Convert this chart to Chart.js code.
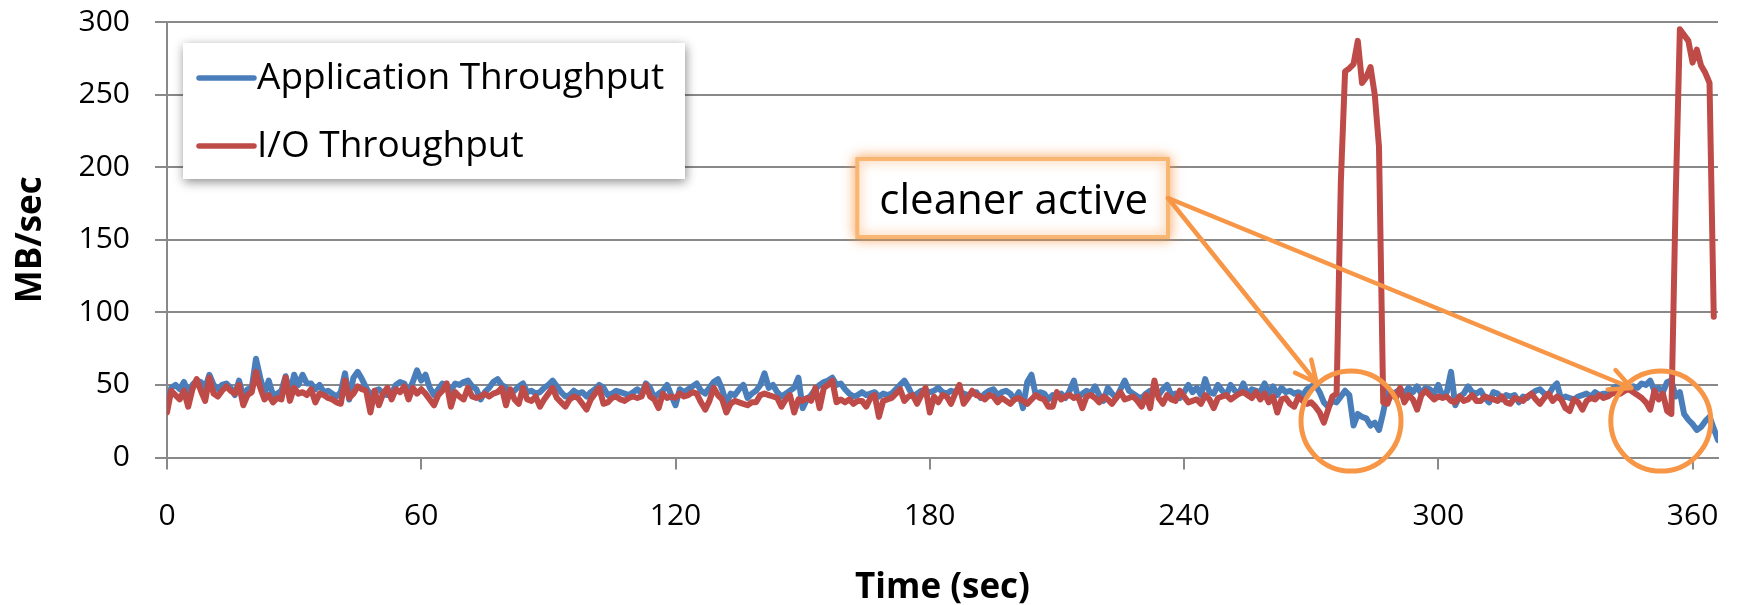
<!DOCTYPE html>
<html>
<head>
<meta charset="utf-8">
<title>Application vs I/O throughput</title>
<script src="https://cdn.jsdelivr.net/npm/chart.js@4.4.1/dist/chart.umd.min.js"></script>
<style>
  html, body { margin: 0; padding: 0; background: #fff; }
  #wrap { width: 1737px; height: 605px; }
</style>
</head>
<body>
<div id="wrap"><canvas id="throughputChart" width="1737" height="605"></canvas></div>
<script>
// one sample per second (0..366)
const appThroughput = [
  37,48,50,47,52,45,50,53,52,48, 57,50,47,50,51,48,43,53,42,47, 48,68,55,44,53,43,44,46,56,44,
  57,50,57,51,51,47,50,45,46,44, 42,45,58,40,55,59,54,48,43,46, 47,44,43,44,50,52,51,45,52,60,
  53,
  57,48,43,47,51,50,46,51,50,52, 53,49,47,40,45,48,52,54,50,48, 44,46,49,51,45,46,44,45,48,50,
  53,49,45,42,43,46,44,45,42,45, 47,50,48,43,44,46,45,44,43,45, 47,44,51,48,41,44,46,50,43,36,
  47,45,47,49,51,46,44,48,52,54, 47,37,44,43,47,50,41,44,46,50, 58,48,50,45,42,44,46,48,55,34,
  40,43,47,50,52,53,55,50,51,47, 44,42,43,45,43,44,45,42,44,43, 44,47,50,53,48,42,44,46,46,45,
  46,
  48,45,44,46,45,46,44,43,44,45, 41,44,46,47,43,45,46,44,40,45, 34,52,57,43,45,44,40,43,42,44,
  41,46,53,41,44,46,44,49,43,39, 48,44,41,47,53,46,44,42,41,44, 46,45,43,47,50,43,44,41,45,50,
  45,
  48,43,54,45,44,50,46,43,50,46, 44,51,43,47,46,45,51,44,49,43, 48,45,46,44,45,43,47,49,50,45,
  38,35,39,38,42,46,43,22,30,28, 27,22,24,19,31,46,43,45,47,44, 48,45,49,44,48,47,44,50,42,45,
  59,
  36,42,44,49,45,44,46,41,38,45, 44,40,43,42,43,38,42,41,44,46, 47,44,43,48,51,40,42,41,40,42,
  43,44,42,45,43,44,44,47,49,46, 48,47,49,48,51,50,53,46,48,45, 52,53,42,45,30,26,23,19,21,25,
  28,20,12
];

const ioThroughput = [
  31,46,43,40,46,35,47,54,46,39, 55,44,42,46,49,46,44,50,36,43, 45,59,48,40,43,38,41,40,55,39,
  48,44,45,43,47,38,44,43,41,40, 38,37,53,41,44,49,47,46,31,46, 36,44,48,40,47,45,49,40,48,44,
  47,
  44,40,36,43,46,51,35,45,42,40, 48,42,41,42,44,42,44,45,48,36, 47,40,37,48,40,39,42,35,40,44,
  48,41,38,35,40,42,41,37,33,40, 44,48,37,38,41,42,40,39,41,42, 41,42,50,42,40,34,44,41,42,41,
  44,42,43,45,44,38,33,39,48,43, 40,31,37,39,38,37,36,38,38,43, 44,43,42,41,35,40,43,31,40,39,
  41,39,48,34,48,50,53,38,40,38, 40,37,39,39,35,41,43,28,39,40, 41,44,47,39,42,43,37,43,48,31,
  42,
  38,43,42,37,44,50,37,41,46,43, 42,40,43,42,38,41,39,37,40,41, 39,37,40,43,41,40,35,35,45,40,
  42,43,41,42,34,42,43,41,38,42, 40,37,41,45,40,41,42,39,35,43, 34,53,41,37,43,40,39,46,42,38,
  39,
  40,37,43,40,34,41,42,43,40,42, 44,45,43,41,45,40,44,38,42,31, 40,41,37,35,42,39,37,38,35,31,
  24,33,42,44,190,266,268,271,287,258, 262,269,250,214,38,37,45,41,48,38, 43,40,33,43,46,43,40,42,41,42,
  39,
  38,42,39,40,43,39,39,42,41,40, 39,42,38,37,41,40,39,42,44,40, 37,41,44,39,42,40,34,32,40,38,
  33,39,41,40,43,41,42,44,45,44, 46,47,45,43,41,38,33,46,40,44, 32,30,177,295,291,287,272,281,270,265,
  258,97
];

const seriesLabels = ['Application Throughput', 'I/O Throughput'];
const timeTicks = [0, 60, 120, 180, 240, 300, 360];
const mbTicks = [0, 50, 100, 150, 200, 250, 300];
const timeMax = 366;

const BLUE = '#4A7EBB';
const RED = '#BE4B48';
const ORANGE = '#F79646';
const AXIS_GRAY = '#898989';
const FONT = '"Open Sans", "DejaVu Sans", sans-serif';

// callout anchors in data units (sec, MB/sec)
const noteBox = { t0: 162.9, t1: 236.2, top: 205.6, bottom: 151.9, text: 'cleaner active' };
const arrowTips = [{ t: 271.3, v: 51.3 }, { t: 345.6, v: 47.9 }];
const cleanerCircles = [{ t: 279.4, v: 25.1 }, { t: 352.5, v: 25.1 }];

function toPoints(values) {
  return values.map((v, i) => ({ x: i, y: v }));
}

function drawLegend(chart) {
  const { ctx, chartArea } = chart;
  const left = chartArea.left + 16;
  const top = chartArea.top + 21;
  const w = 502, h = 136;

  ctx.save();
  ctx.shadowColor = 'rgba(0, 0, 0, 0.45)';
  ctx.shadowBlur = 10;
  ctx.shadowOffsetX = 1;
  ctx.shadowOffsetY = 3;
  ctx.fillStyle = '#fff';
  ctx.fillRect(left, top, w, h);
  ctx.restore();

  ctx.save();
  ctx.font = '37px ' + FONT;
  ctx.textBaseline = 'middle';
  ctx.fillStyle = '#000';
  ctx.lineCap = 'round';
  ctx.lineWidth = 5.5;
  chart.data.datasets.forEach((ds, i) => {
    const cy = top + 35 + i * 68;
    ctx.strokeStyle = ds.borderColor;
    ctx.beginPath();
    ctx.moveTo(left + 16, cy);
    ctx.lineTo(left + 71, cy);
    ctx.stroke();
    ctx.fillText(ds.label, left + 74, cy);
  });
  ctx.restore();
}

function drawArrow(ctx, x0, y0, x1, y1) {
  const ang = Math.atan2(y1 - y0, x1 - x0);
  const head = 24, spread = 0.45;
  ctx.beginPath();
  ctx.moveTo(x0, y0);
  ctx.lineTo(x1, y1);
  ctx.moveTo(x1 - head * Math.cos(ang - spread), y1 - head * Math.sin(ang - spread));
  ctx.lineTo(x1, y1);
  ctx.lineTo(x1 - head * Math.cos(ang + spread), y1 - head * Math.sin(ang + spread));
  ctx.stroke();
}

const overlayPlugin = {
  id: 'overlay',
  afterDraw(chart) {
    const { ctx } = chart;
    const x = chart.scales.x, y = chart.scales.y;

    drawLegend(chart);

    // "cleaner active" callout
    const bx0 = x.getPixelForValue(noteBox.t0), bx1 = x.getPixelForValue(noteBox.t1);
    const by0 = y.getPixelForValue(noteBox.top), by1 = y.getPixelForValue(noteBox.bottom);
    ctx.save();
    ctx.shadowColor = 'rgba(247, 150, 70, 0.8)';
    ctx.shadowBlur = 12;
    ctx.fillStyle = '#fff';
    ctx.fillRect(bx0, by0, bx1 - bx0, by1 - by0);
    ctx.strokeStyle = 'rgba(249, 180, 110, 0.95)';
    ctx.lineWidth = 4;
    ctx.strokeRect(bx0, by0, bx1 - bx0, by1 - by0);
    ctx.restore();

    ctx.save();
    ctx.font = '42px ' + FONT;
    ctx.fillStyle = '#000';
    ctx.textBaseline = 'alphabetic';
    ctx.fillText(noteBox.text, bx0 + 22, by0 + 55);
    ctx.restore();

    // arrows + circles
    ctx.save();
    ctx.strokeStyle = ORANGE;
    ctx.lineCap = 'round';
    ctx.lineJoin = 'round';
    ctx.lineWidth = 4.5;
    const ax = bx1, ay = (by0 + by1) / 2;
    arrowTips.forEach(tip => {
      drawArrow(ctx, ax, ay, x.getPixelForValue(tip.t), y.getPixelForValue(tip.v));
    });
    ctx.lineWidth = 5;
    cleanerCircles.forEach(c => {
      ctx.beginPath();
      ctx.arc(x.getPixelForValue(c.t), y.getPixelForValue(c.v), 50, 0, Math.PI * 2);
      ctx.stroke();
    });
    ctx.restore();
  }
};

const ctx = document.getElementById('throughputChart').getContext('2d');

new Chart(ctx, {
  type: 'line',
  data: {
    datasets: [
      {
        label: seriesLabels[0],
        data: toPoints(appThroughput),
        borderColor: BLUE,
        borderWidth: 6,
        pointRadius: 0,
        tension: 0,
        borderJoinStyle: 'round',
        borderCapStyle: 'round',
        order: 1
      },
      {
        label: seriesLabels[1],
        data: toPoints(ioThroughput),
        borderColor: RED,
        borderWidth: 6,
        pointRadius: 0,
        tension: 0,
        borderJoinStyle: 'round',
        borderCapStyle: 'round',
        order: 0
      }
    ]
  },
  options: {
    responsive: false,
    animation: false,
    devicePixelRatio: 1,
    layout: { padding: { top: 22, right: 19, left: 0, bottom: 0 } },
    plugins: {
      legend: { display: false },
      tooltip: { enabled: false }
    },
    scales: {
      x: {
        type: 'linear',
        min: 0,
        max: timeMax,
        afterBuildTicks: scale => { scale.ticks = timeTicks.map(v => ({ value: v })); },
        afterFit: scale => {
          scale.height = 147.5;
          // labels fit inside the fixed margins, so no extra overflow room
          scale.paddingLeft = 0;
          scale.paddingRight = 0;
        },
        grid: { drawOnChartArea: false, drawTicks: true, tickLength: 12, color: AXIS_GRAY, lineWidth: 2 },
        border: { color: AXIS_GRAY, width: 2 },
        ticks: { font: { family: FONT, size: 30 }, color: '#000', padding: 29, maxRotation: 0 },
        title: {
          display: true,
          text: 'Time (sec)',
          color: '#000',
          font: { family: FONT, size: 35, weight: 'bold' },
          padding: { top: 0, bottom: -4 }
        }
      },
      y: {
        min: 0,
        max: 300,
        afterBuildTicks: scale => { scale.ticks = mbTicks.map(v => ({ value: v })); },
        afterFit: scale => {
          scale.width = 167;
          scale.paddingTop = 0;
          scale.paddingBottom = 0;
        },
        grid: { color: AXIS_GRAY, lineWidth: 2, tickLength: 12 },
        border: { color: AXIS_GRAY, width: 2 },
        ticks: { font: { family: FONT, size: 30 }, color: '#000', padding: 25 },
        title: {
          display: true,
          text: 'MB/sec',
          color: '#000',
          font: { family: FONT, size: 35, weight: 'bold' },
          padding: { top: 10, bottom: 0 }
        }
      }
    }
  },
  plugins: [overlayPlugin]
});
</script>
</body>
</html>
